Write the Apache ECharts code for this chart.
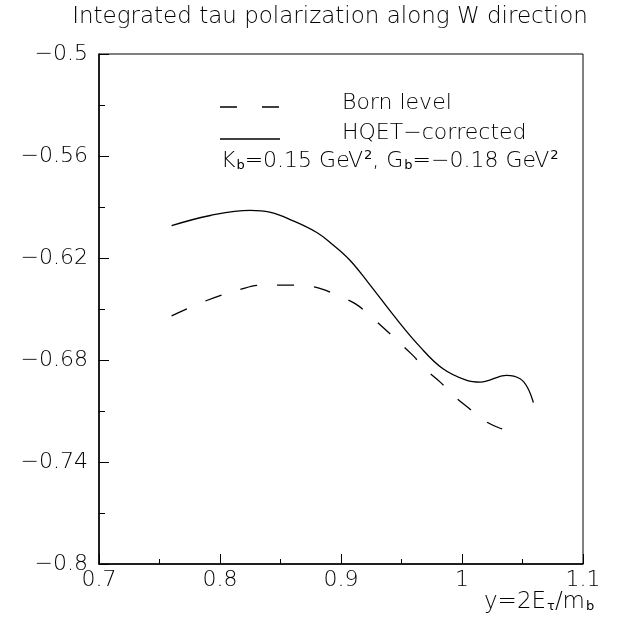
<!DOCTYPE html>
<html lang="en">
<head>
    <meta charset="UTF-8">
    <title>Integrated tau polarization</title>
    <script src="https://cdn.jsdelivr.net/npm/echarts@6/dist/echarts.min.js"></script>
</head>
<body style="margin:0;background:#fff">
<div id="main" style="width:621px;height:621px;"></div>
<script type="text/javascript">
    // values
    var hqetX = [0.760, 0.792, 0.825, 0.841, 0.860, 0.880, 0.893, 0.907, 0.922, 0.946, 0.965, 0.984, 1.004, 1.015, 1.037, 1.048, 1.054, 1.059];
    var hqetY = [-0.601, -0.595, -0.592, -0.593, -0.598, -0.605, -0.612, -0.621, -0.634, -0.656, -0.672, -0.685, -0.692, -0.693, -0.689, -0.691, -0.696, -0.705];
    var bornX = [0.760, 0.789, 0.819, 0.835, 0.851, 0.866, 0.883, 0.897, 0.912, 0.924, 0.959, 0.969, 0.982, 0.993, 1.005, 1.017, 1.031, 1.046];
    var bornY = [-0.654, -0.645, -0.638, -0.636, -0.636, -0.636, -0.638, -0.642, -0.647, -0.654, -0.677, -0.685, -0.693, -0.701, -0.708, -0.715, -0.720, -0.723];
    var xTickLabels = ['0.7', '0.8', '0.9', '1', '1.1'];
    var yTickLabels = ['−0.8', '−0.74', '−0.68', '−0.62', '−0.56', '−0.5'];

    function pairs(xs, ys) {
        var out = [];
        for (var i = 0; i < xs.length; i++) out.push([xs[i], ys[i]]);
        return out;
    }

    var font = 'DejaVu Sans';
    var fs = 22;
    var myChart = echarts.init(document.getElementById('main'));
    var option = {
        backgroundColor: '#fff',
        animation: false,
        grid: {left: 99, right: 38, top: 54, bottom: 57, show: true, borderColor: '#000', borderWidth: 1},
        xAxis: {
            type: 'value', min: 0.7, max: 1.1, interval: 0.1,
            axisLine: {onZero: false, lineStyle: {color: '#000', width: 1.5}},
            axisTick: {inside: true, length: 10, lineStyle: {color: '#000'}},
            minorTick: {show: true, splitNumber: 2, length: 5, lineStyle: {color: '#000'}},
            splitLine: {show: false},
            axisLabel: {
                margin: 5, color: '#000', fontFamily: font, fontSize: fs, fontWeight: 200,
                formatter: function (v) { return xTickLabels[Math.round((v - 0.7) / 0.1)]; }
            }
        },
        yAxis: {
            type: 'value', min: -0.8, max: -0.5, interval: 0.06,
            axisLine: {onZero: false, lineStyle: {color: '#000', width: 1.5}},
            axisTick: {inside: true, length: 10, lineStyle: {color: '#000'}},
            minorTick: {show: true, splitNumber: 2, length: 6, lineStyle: {color: '#000'}},
            splitLine: {show: false},
            axisLabel: {
                margin: 11, color: '#000', fontFamily: font, fontSize: fs, fontWeight: 200,
                formatter: function (v) { return yTickLabels[Math.round((v + 0.8) / 0.06)]; }
            }
        },
        graphic: [
            {type: 'text', x: 330, y: 17, style: {text: 'Integrated tau polarization along W direction', fontFamily: font, fontSize: 23, fontWeight: 200, fill: '#000', align: 'center', verticalAlign: 'middle'}},
            // legend samples
            {type: 'line', shape: {x1: 220, y1: 107, x2: 280, y2: 107}, style: {stroke: '#000', lineWidth: 1.3, lineDash: [17, 25]}},
            {type: 'line', shape: {x1: 220, y1: 139, x2: 280, y2: 139}, style: {stroke: '#000', lineWidth: 1.3}},
            {type: 'text', x: 342, y: 103, style: {text: 'Born level', fontFamily: font, fontSize: fs, fontWeight: 200, fill: '#000', verticalAlign: 'middle'}},
            {type: 'text', x: 342, y: 133, style: {text: 'HQET−corrected', fontFamily: font, fontSize: fs, fontWeight: 200, fill: '#000', verticalAlign: 'middle'}},
            {type: 'text', x: 221, y: 161, style: {
                text: 'K{sub|b}=0.15 GeV{sup|2}, G{sub|b}=−0.18 GeV{sup|2}',
                fontFamily: font, fontSize: 22, fontWeight: 200, fill: '#000', verticalAlign: 'middle',
                rich: {
                    sub: {fontFamily: font, fontSize: 13, fill: '#000', padding: [10, 0, 0, 1]},
                    sup: {fontFamily: font, fontSize: 13, fill: '#000', padding: [0, 0, 10, 1]}
                }
            }},
            {type: 'text', x: 484, y: 602, style: {
                text: 'y=2E{sub|τ}/m{sub|b}',
                fontFamily: font, fontSize: 23, fontWeight: 200, fill: '#000', verticalAlign: 'middle',
                rich: {
                    sub: {fontFamily: font, fontSize: 13, fill: '#000', padding: [10, 0, 0, 1]}
                }
            }}
        ],
        series: [
            {
                name: 'Born level', type: 'line', data: pairs(bornX, bornY),
                showSymbol: false, smooth: 0.4,
                lineStyle: {color: '#000', width: 1.3, type: [17, 20]}
            },
            {
                name: 'HQET-corrected', type: 'line', data: pairs(hqetX, hqetY),
                showSymbol: false, smooth: 0.4,
                lineStyle: {color: '#000', width: 1.3}
            }
        ]
    };
    myChart.setOption(option);
</script>
</body>
</html>
